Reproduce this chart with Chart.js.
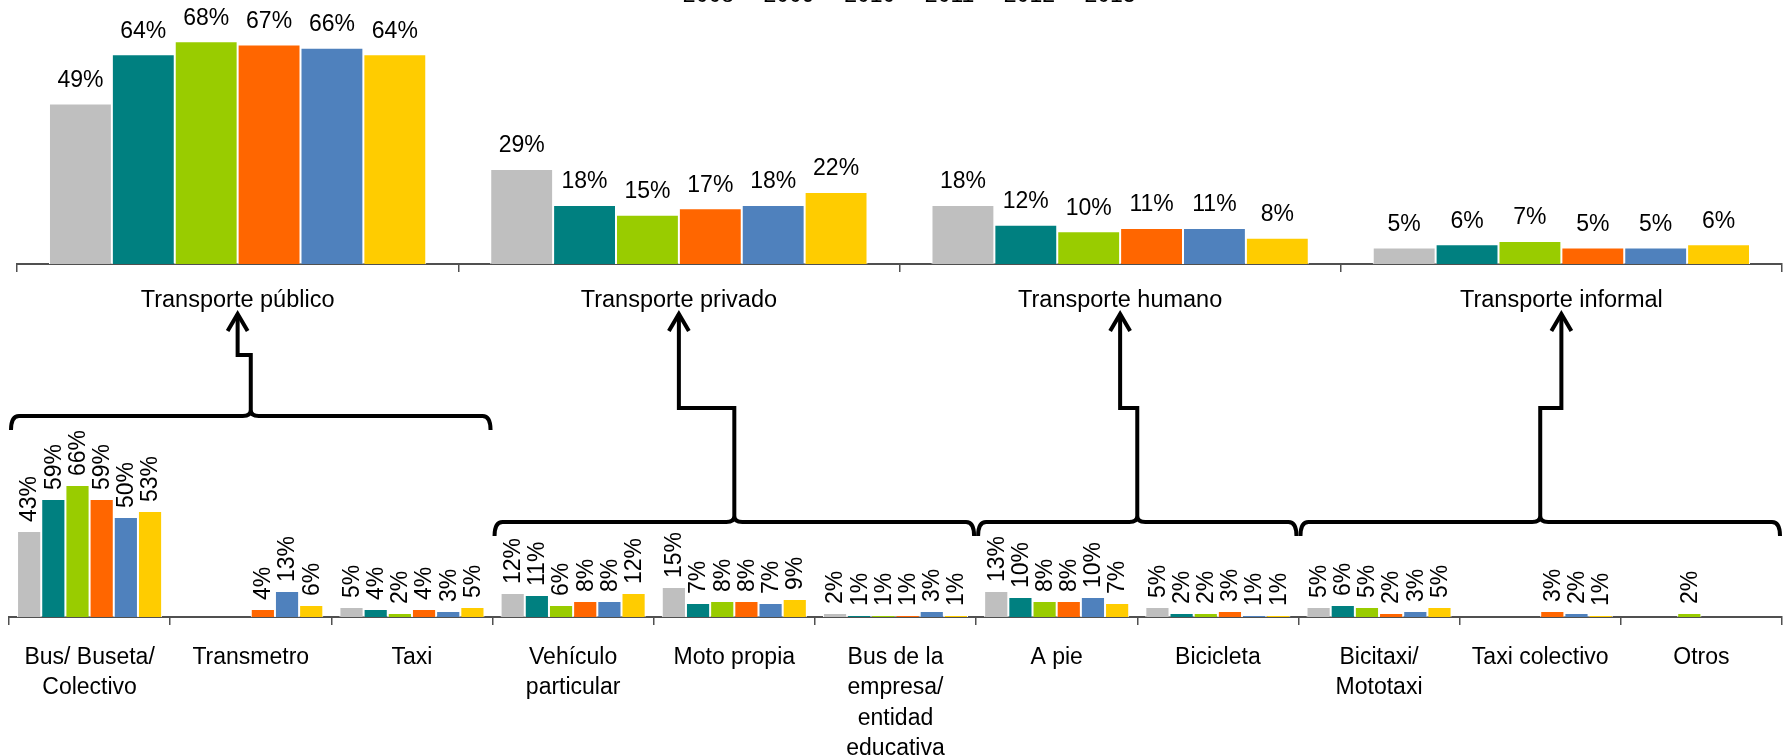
<!DOCTYPE html>
<html>
<head>
<meta charset="utf-8">
<script src="https://cdn.jsdelivr.net/npm/chart.js@4.4.0/dist/chart.umd.min.js"></script>
<style>
  html, body { margin: 0; padding: 0; background: #fff; overflow: hidden; }
  body { width: 1783px; height: 756px; position: relative; }
  #topChart { position: absolute; left: 0; top: -26px; }
  #bottomChart { position: absolute; left: 0; top: 400px; }
  #overlay { position: absolute; left: 0; top: 0; pointer-events: none; }
</style>
</head>
<body>
<canvas id="topChart" width="1783" height="376"></canvas>
<canvas id="bottomChart" width="1783" height="356"></canvas>
<canvas id="overlay" width="1783" height="756"></canvas>
<script>
// years / colours
const years = ['2008', '2009', '2010', '2011', '2012', '2013'];
const colors = ['#BFBFBF', '#008080', '#99CC00', '#FF6600', '#4F81BD', '#FFCC00'];

// top: grouped transport type
const groupLabels = ['Transporte público', 'Transporte privado', 'Transporte humano', 'Transporte informal'];
const group2008 = [49, 29, 18, 5];
const group2009 = [64, 18, 12, 6];
const group2010 = [68, 15, 10, 7];
const group2011 = [67, 17, 11, 5];
const group2012 = [66, 18, 11, 5];
const group2013 = [64, 22, 8, 6];

// bottom: detailed mode
const modeLabels = [['Bus/ Buseta/', 'Colectivo'], 'Transmetro', 'Taxi', ['Vehículo', 'particular'], 'Moto propia',
  ['Bus de la', 'empresa/', 'entidad', 'educativa'], 'A pie', 'Bicicleta', ['Bicitaxi/', 'Mototaxi'], 'Taxi colectivo', 'Otros'];
const mode2008 = [43, null, 5, 12, 15, 2, 13, 5, 5, null, null];
const mode2009 = [59, null, 4, 11, 7, 1, 10, 2, 6, null, null];
const mode2010 = [66, null, 2, 6, 8, 1, 8, 2, 5, null, 2];
const mode2011 = [59, 4, 4, 8, 8, 1, 8, 3, 2, 3, null];
const mode2012 = [50, 13, 3, 8, 7, 3, 10, 1, 3, 2, null];
const mode2013 = [53, 6, 5, 12, 9, 1, 7, 1, 5, 1, null];

// which detailed modes belong to each group (first, last index)
const groupSpans = [[0, 2], [3, 5], [6, 7], [8, 10]];

const FONT = "'Liberation Sans', Arial, sans-serif";

function makeSets(series) {
  return series.map((d, i) => ({
    label: years[i],
    data: d,
    backgroundColor: colors[i],
    borderColor: '#ffffff',
    borderWidth: 1
  }));
}

// value labels over each bar
const valueLabels = {
  id: 'valueLabels',
  afterDatasetsDraw(chart, args, opts) {
    const ctx = chart.ctx;
    ctx.save();
    ctx.fillStyle = '#000';
    ctx.font = opts.size + 'px ' + FONT;
    chart.data.datasets.forEach((ds, i) => {
      chart.getDatasetMeta(i).data.forEach((bar, j) => {
        const v = ds.data[j];
        if (v == null) return;
        const txt = Math.round(v) + '%';
        if (opts.rotate) {
          ctx.save();
          ctx.translate(bar.x + 1, bar.y - opts.gap);
          ctx.rotate(-Math.PI / 2);
          ctx.textAlign = 'left';
          ctx.textBaseline = 'middle';
          ctx.fillText(txt, 0, 0);
          ctx.restore();
        } else {
          ctx.textAlign = 'center';
          ctx.textBaseline = 'middle';
          ctx.fillText(txt, bar.x, bar.y - opts.gap);
        }
      });
    });
    ctx.restore();
  }
};

const topChart = new Chart(document.getElementById('topChart'), {
  type: 'bar',
  data: {
    labels: groupLabels,
    datasets: makeSets([group2008, group2009, group2010, group2011, group2012, group2013])
  },
  options: {
    responsive: false,
    animation: false,
    categoryPercentage: 0.855,
    barPercentage: 1,
    layout: { padding: { left: 17, right: 1, top: 0, bottom: 0 } },
    plugins: {
      legend: {
        position: 'top',
        labels: { boxWidth: 8, boxHeight: 8, padding: 10, color: '#000', font: { family: FONT, size: 23 } }
      },
      tooltip: { enabled: false },
      valueLabels: { size: 23, gap: 23, rotate: false }
    },
    scales: {
      x: {
        grid: { drawOnChartArea: false, drawTicks: true, tickLength: 8, color: '#505050', lineWidth: 1.5 },
        border: { color: '#505050', width: 2 },
        ticks: { color: '#000', padding: 14, maxRotation: 0, autoSkip: false, font: { family: FONT, size: 23.5 } },
        afterFit: (scale) => { scale.height = 86; }
      },
      y: { display: false, min: 0, max: 75.4 }
    }
  },
  plugins: [valueLabels]
});

const bottomChart = new Chart(document.getElementById('bottomChart'), {
  type: 'bar',
  data: {
    labels: modeLabels,
    datasets: makeSets([mode2008, mode2009, mode2010, mode2011, mode2012, mode2013])
  },
  options: {
    responsive: false,
    animation: false,
    categoryPercentage: 0.9,
    barPercentage: 1,
    layout: { padding: { left: 9, right: 1, top: 17, bottom: 0 } },
    plugins: {
      legend: { display: false },
      tooltip: { enabled: false },
      valueLabels: { size: 23, gap: 9, rotate: true }
    },
    scales: {
      x: {
        grid: { drawOnChartArea: false, drawTicks: true, tickLength: 8, color: '#505050', lineWidth: 1.5 },
        border: { color: '#505050', width: 2 },
        ticks: { color: '#000', padding: 17, maxRotation: 0, autoSkip: false, font: { family: FONT, size: 23, lineHeight: 1.33 } },
        afterFit: (scale) => { scale.height = 139; }
      },
      y: { display: false, min: 0, max: 100 }
    }
  },
  plugins: [valueLabels]
});

// braces and arrows linking the detailed modes to their group
function drawLinks() {
  const ctx = document.getElementById('overlay').getContext('2d');
  const topOff = -26;
  const xt = topChart.scales.x, xb = bottomChart.scales.x;
  const cw = xb.width / modeLabels.length;
  const tipY = xt.top + topOff + 50;
  ctx.strokeStyle = '#000';
  ctx.lineWidth = 4;
  ctx.lineJoin = 'miter';
  groupSpans.forEach((span, g) => {
    const x0 = xb.left + span[0] * cw + 2;
    const x1 = xb.left + (span[1] + 1) * cw - 2;
    const xm = (x0 + x1) / 2;
    const y = g === 0 ? 416 : 522;
    const jogY = g === 0 ? 355 : 408;
    const xc = xt.getPixelForValue(g);
    const r = 8, h = 14, peak = 6;
    ctx.beginPath();
    ctx.moveTo(x0, y + h);
    ctx.quadraticCurveTo(x0, y, x0 + r, y);
    ctx.lineTo(xm - r, y);
    ctx.quadraticCurveTo(xm, y, xm, y - peak);
    ctx.quadraticCurveTo(xm, y, xm + r, y);
    ctx.lineTo(x1 - r, y);
    ctx.quadraticCurveTo(x1, y, x1, y + h);
    ctx.stroke();
    // connector
    ctx.beginPath();
    ctx.moveTo(xm, y - peak);
    ctx.lineTo(xm, jogY);
    ctx.lineTo(xc, jogY);
    ctx.lineTo(xc, tipY);
    ctx.stroke();
    // arrow head
    ctx.beginPath();
    ctx.moveTo(xc - 10, tipY + 17);
    ctx.lineTo(xc, tipY);
    ctx.lineTo(xc + 10, tipY + 17);
    ctx.stroke();
  });
}
drawLinks();
</script>
</body>
</html>
